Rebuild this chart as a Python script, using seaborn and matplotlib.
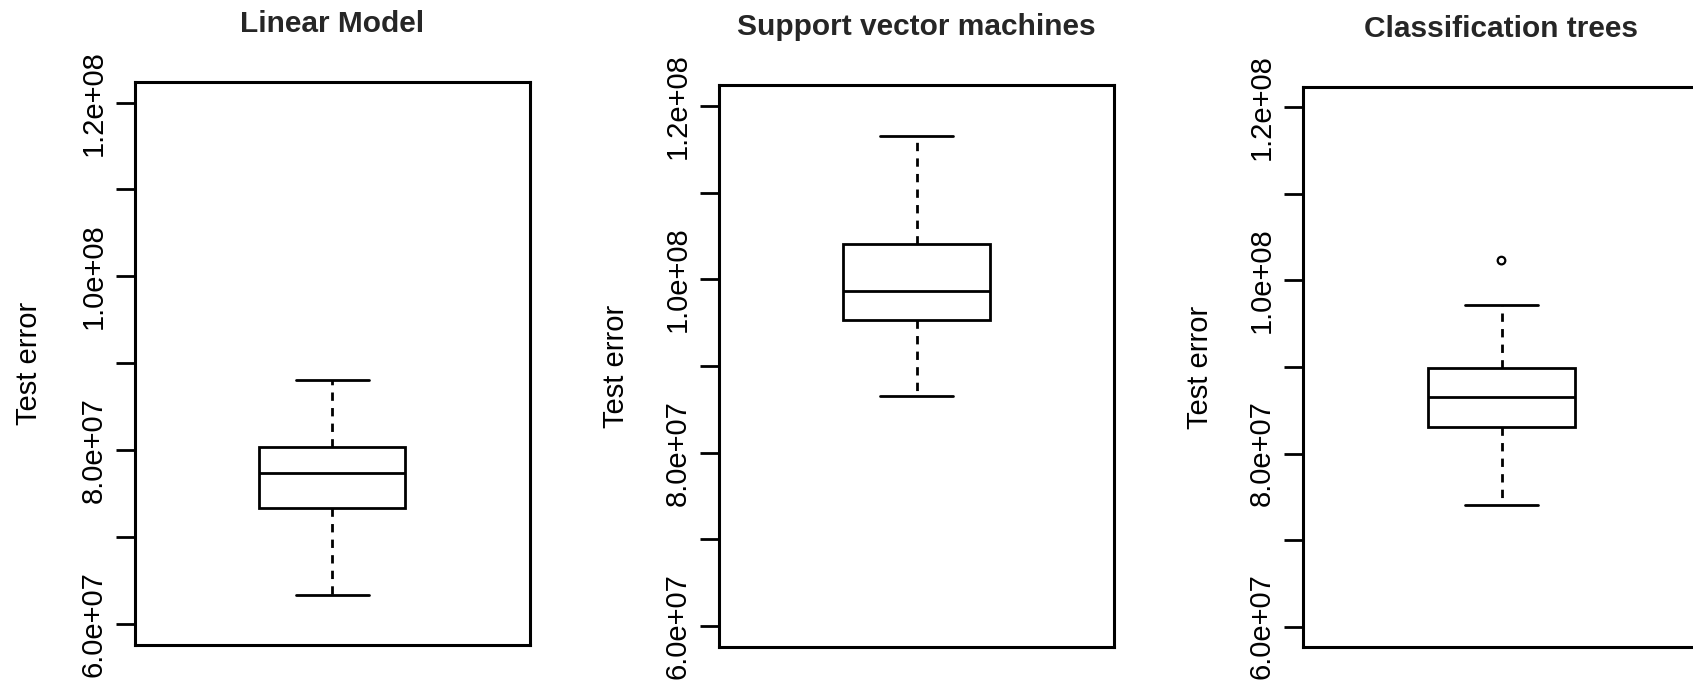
import matplotlib
matplotlib.use("Agg")
import matplotlib.pyplot as plt
import seaborn as sns
import pandas as pd
import numpy as np

# ---- data ----
titles = ["Linear Model", "Support vector machines", "Classification trees"]
lower_whisker = [6.34e7, 8.65e7, 7.40e7]
q1 = [7.34e7, 9.53e7, 8.31e7]
median = [7.74e7, 9.86e7, 8.65e7]
q3 = [8.04e7, 10.41e7, 8.99e7]
upper_whisker = [8.81e7, 11.65e7, 9.72e7]
outliers = [[], [], [10.23e7]]
y_ticks = [6e7, 7e7, 8e7, 9e7, 10e7, 11e7, 12e7]
y_tick_labels = ["6.0e+07", "", "8.0e+07", "", "1.0e+08", "", "1.2e+08"]
y_label = "Test error"

sns.set_style("ticks")
plt.rcParams['font.family'] = ['Liberation Sans', 'DejaVu Sans']

W, H = 1693, 683
fig = plt.figure(figsize=(W / 100, H / 100), dpi=100)
fig.patch.set_facecolor("white")

# axes boxes in pixels: left, right, top, bottom
boxes_px = [(135, 529.5, 81.7, 645), (719, 1114, 85, 647), (1303, 1700, 86.7, 647.3)]
label_x = [-0.232, -0.225, -0.225]

for i in range(3):
    l, r, t, b = boxes_px[i]
    ax = fig.add_axes([l / W, 1 - b / H, (r - l) / W, (b - t) / H])
    df = pd.DataFrame({
        "model": titles[i],
        "error": [lower_whisker[i], q1[i], median[i], q3[i], upper_whisker[i]],
    })
    sns.boxplot(
        data=df, x="model", y="error", ax=ax, width=0.4,
        color="white", linecolor="black", linewidth=2, whis=(0, 100),
        saturation=1,
        whiskerprops={"linestyle": (0, (3, 2.6))},
    )
    if outliers[i]:
        odf = pd.DataFrame({"model": [titles[i]] * len(outliers[i]), "error": outliers[i]})
        sns.scatterplot(data=odf, x="model", y="error", ax=ax, marker="o", s=30,
                        facecolor="none", edgecolor="black", linewidth=1.6, zorder=5)
    ax.set_xlim(-0.54, 0.54)
    ax.set_ylim(5.76e7, 12.24e7)
    ax.set_xticks([])
    ax.set_xlabel("")
    ax.set_yticks(y_ticks)
    ax.set_yticklabels(y_tick_labels, rotation=90, va="center")
    ax.tick_params(axis="y", length=13.7, width=2, pad=5.8, labelsize=21, colors="black")
    for s in ax.spines.values():
        s.set_visible(True)
        s.set_color("black")
        s.set_linewidth(2.2)
    ax.set_ylabel(y_label, fontsize=21, color="black")
    ax.yaxis.set_label_coords(label_x[i], 0.5)
    ax.set_title(titles[i], fontsize=21.5, fontweight="bold", pad=35.8)
    ax.set_facecolor("white")

fig.savefig("out.png", dpi=100, facecolor="white")
